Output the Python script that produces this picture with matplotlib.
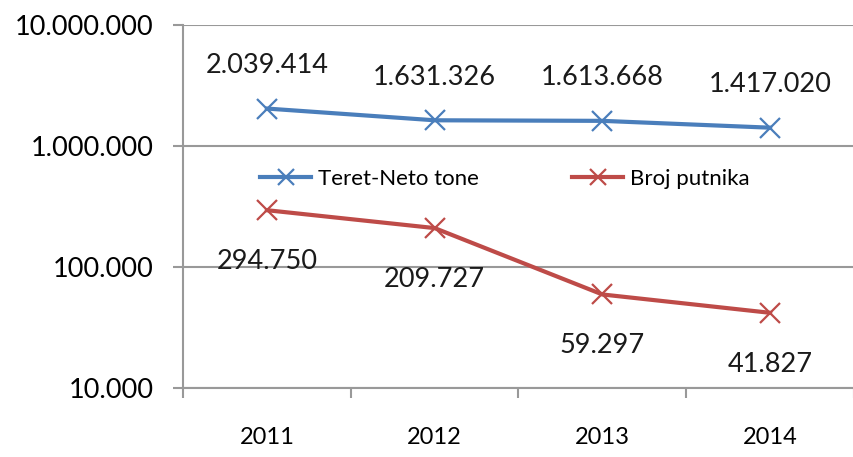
import matplotlib
matplotlib.use("Agg")
from matplotlib import pyplot as plt
from matplotlib.ticker import FixedLocator, NullLocator

# podaci
godine = ["2011", "2012", "2013", "2014"]
teret = [2039414, 1631326, 1613668, 1417020]
putnici = [294750, 209727, 59297, 41827]
teret_lbl = ["2.039.414", "1.631.326", "1.613.668", "1.417.020"]
putnici_lbl = ["294.750", "209.727", "59.297", "41.827"]
yticks = [10000, 100000, 1000000, 10000000]
ytick_lbl = ["10.000", "100.000", "1.000.000", "10.000.000"]

plava = "#4A7EBB"
crvena = "#BE4B48"
plt.rcParams["font.family"] = ["Lato", "DejaVu Sans"]

fig = plt.figure(figsize=(8.54, 4.57), dpi=100)
ax = fig.add_axes([183/854, 1-388/457, 671/854, (388-25)/457])

x = list(range(len(godine)))
ax.plot(x, teret, color=plava, lw=3, marker="x", ms=14, mew=1.6, label="Teret-Neto tone")
ax.plot(x, putnici, color=crvena, lw=3, marker="x", ms=14, mew=1.6, label="Broj putnika")

for xi, v, t in zip(x, teret, teret_lbl):
    ax.annotate(t, (xi, v), xytext=(0, 31), textcoords="offset points",
                ha="center", va="center", fontsize=19.5, color="#1a1a1a")
for xi, v, t in zip(x, putnici, putnici_lbl):
    ax.annotate(t, (xi, v), xytext=(0, -37), textcoords="offset points",
                ha="center", va="center", fontsize=19.5, color="#1a1a1a")

ax.set_yscale("log")
ax.set_ylim(10000, 10000000)
ax.set_xlim(-0.5, 3.5)
ax.yaxis.set_major_locator(FixedLocator(yticks))
ax.yaxis.set_minor_locator(NullLocator())
ax.set_yticklabels(ytick_lbl)
ax.set_xticks(x)
ax.set_xticklabels(godine)
ax.set_xticks([-0.5, 0.5, 1.5, 2.5, 3.5], minor=True)
ax.tick_params(axis="x", which="major", length=0, pad=28, labelsize=17)
ax.tick_params(axis="x", which="minor", length=7, color="#999999", width=1.5)
ax.tick_params(axis="y", which="major", length=7, color="#999999", width=1.5, labelsize=19.5, pad=14)

ax.grid(True, axis="y", color="#999999", lw=1.5)
for s in ["top", "right"]:
    ax.spines[s].set_visible(False)
for s in ["left", "bottom"]:
    ax.spines[s].set_color("#999999")
    ax.spines[s].set_linewidth(1.5)

ax.legend(loc="center left", bbox_to_anchor=(0.085, 0.575), ncol=2, frameon=False,
          fontsize=16, columnspacing=4.2, handlelength=2.3, handletextpad=0.3,
          markerscale=0.8)

fig.savefig("out.png", dpi=100)
